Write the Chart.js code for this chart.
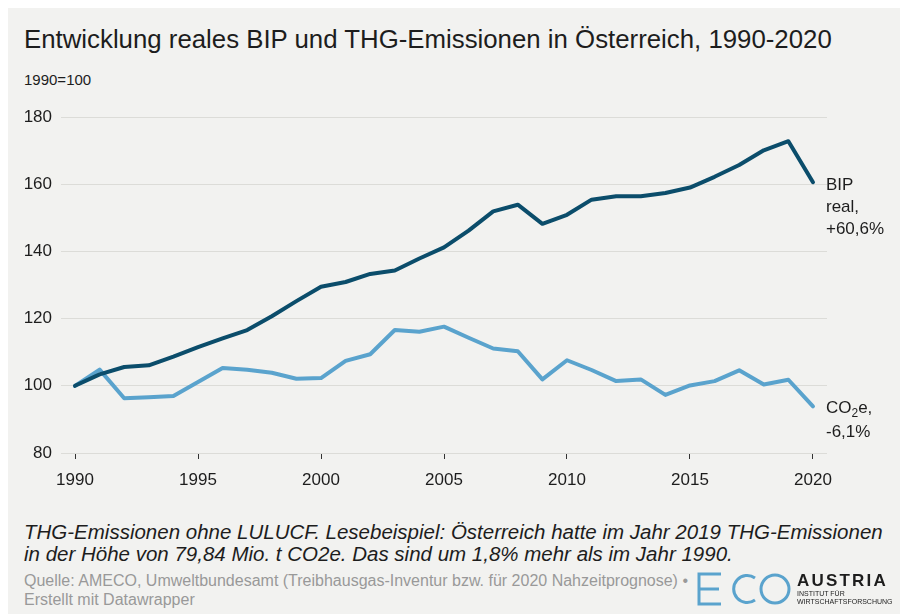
<!DOCTYPE html>
<html>
<head>
<meta charset="utf-8">
<script src="https://cdn.jsdelivr.net/npm/chart.js@4"></script>
<style>
  html, body { margin: 0; padding: 0; background: #fff; }
  body { width: 900px; height: 614px; position: relative; overflow: hidden; font-family: "Liberation Sans", Arial, sans-serif; }
  .panel { position: absolute; left: 8px; top: 8px; right: 0; bottom: 0; background: #f2f2f0; }
  .txt { position: absolute; white-space: nowrap; color: #1d1d1d; }
  #title { left: 24px; top: 24px; font-size: 25.8px; line-height: 30px; }
  #unit { left: 24px; top: 72px; font-size: 15px; line-height: 16px; }
  #note { left: 24px; top: 521px; font-size: 20.5px; line-height: 22px; font-style: italic; }
  #source { left: 24px; top: 571px; font-size: 16px; line-height: 19px; color: #999; }
  #chart { position: absolute; left: 0; top: 0; }
  #logo { position: absolute; left: 694px; top: 566px; }
</style>
</head>
<body>
<div class="panel"></div>
<div class="txt" id="title">Entwicklung reales BIP und THG-Emissionen in Österreich, 1990-2020</div>
<div class="txt" id="unit">1990=100</div>
<div class="txt" id="note">THG-Emissionen ohne LULUCF. Lesebeispiel: Österreich hatte im Jahr 2019 THG-Emissionen<br>in der Höhe von 79,84 Mio. t CO2e. Das sind um 1,8% mehr als im Jahr 1990.</div>
<div class="txt" id="source">Quelle: AMECO, Umweltbundesamt (Treibhausgas-Inventur bzw. für 2020 Nahzeitprognose) •<br>Erstellt mit Datawrapper</div>
<canvas id="chart" width="900" height="614"></canvas>
<svg id="logo" width="206" height="44" viewBox="0 0 206 44">
  <g fill="none" stroke="#5aa3cd" stroke-width="3">
    <path d="M27 8 H5 V38 H27 M5 23 H25"/>
    <path d="M61 12 A13.5 13.5 0 1 0 61 34"/>
    <circle cx="81" cy="23" r="14"/>
  </g>
  <text x="103" y="20" font-family="Liberation Sans, Arial" font-weight="bold" font-size="17" letter-spacing="2.2" fill="#1d1d1d">AUSTRIA</text>
  <text x="103" y="30" font-family="Liberation Sans, Arial" font-size="7" fill="#1d1d1d">INSTITUT FÜR</text>
  <text x="103" y="38" font-family="Liberation Sans, Arial" font-size="7" fill="#1d1d1d">WIRTSCHAFTSFORSCHUNG</text>
</svg>
<script>
const years = [1990, 1991, 1992, 1993, 1994, 1995, 1996, 1997, 1998, 1999,
  2000, 2001, 2002, 2003, 2004, 2005, 2006, 2007, 2008, 2009,
  2010, 2011, 2012, 2013, 2014, 2015, 2016, 2017, 2018, 2019, 2020];
const bipReal = [100, 103.4, 105.6, 106.1, 108.7, 111.5, 114.1, 116.6, 120.7, 125.2,
  129.5, 130.9, 133.3, 134.3, 137.9, 141.2, 146.2, 151.9, 153.9, 148.2,
  150.9, 155.4, 156.4, 156.4, 157.4, 159.0, 162.2, 165.7, 170.1, 172.8, 160.6];
const co2e = [100, 104.8, 96.3, 96.6, 97.0, 101.1, 105.3, 104.8, 103.9, 102.1,
  102.3, 107.4, 109.4, 116.6, 116.1, 117.6, 114.3, 111.1, 110.3, 101.9,
  107.6, 104.7, 101.4, 101.9, 97.3, 100.1, 101.4, 104.6, 100.4, 101.8, 93.9];
const xTicks = [1990, 1995, 2000, 2005, 2010, 2015, 2020];
const yTicks = [80, 100, 120, 140, 160, 180];

const darkBlue = '#0b4d6b';
const lightBlue = '#5aa3cd';
const textColor = '#1d1d1d';

// labels at the end of each line
const endLabels = {
  id: 'endLabels',
  afterDatasetsDraw(chart) {
    const ctx = chart.ctx;
    ctx.save();
    ctx.fillStyle = textColor;
    ctx.textAlign = 'left';
    ctx.textBaseline = 'middle';
    ctx.font = '17px "Liberation Sans", Arial, sans-serif';

    const p0 = chart.getDatasetMeta(0).data[years.length - 1];
    const x0 = p0.x + 13;
    ['BIP', 'real,', '+60,6%'].forEach((s, i) => ctx.fillText(s, x0, p0.y + 3 + i * 22));

    const p1 = chart.getDatasetMeta(1).data[years.length - 1];
    const x1 = p1.x + 13;
    const y1 = p1.y + 2;
    ctx.fillText('CO', x1, y1);
    let w = ctx.measureText('CO').width;
    ctx.font = '12px "Liberation Sans", Arial, sans-serif';
    ctx.fillText('2', x1 + w, y1 + 5);
    w += ctx.measureText('2').width;
    ctx.font = '17px "Liberation Sans", Arial, sans-serif';
    ctx.fillText('e,', x1 + w, y1);
    ctx.fillText('-6,1%', x1, y1 + 24);
    ctx.restore();
  }
};

new Chart(document.getElementById('chart'), {
  type: 'line',
  data: {
    datasets: [
      {
        label: 'BIP real',
        data: years.map((y, i) => ({ x: y, y: bipReal[i] })),
        borderColor: darkBlue,
        borderWidth: 4,
        pointRadius: 0,
        tension: 0,
        borderCapStyle: 'round',
        borderJoinStyle: 'round'
      },
      {
        label: 'CO2e',
        data: years.map((y, i) => ({ x: y, y: co2e[i] })),
        borderColor: lightBlue,
        borderWidth: 4,
        pointRadius: 0,
        tension: 0,
        borderCapStyle: 'round',
        borderJoinStyle: 'round'
      }
    ]
  },
  options: {
    responsive: false,
    animation: false,
    layout: { padding: { top: 117, left: 0, right: 73, bottom: 121 } },
    plugins: {
      legend: { display: false },
      tooltip: { enabled: false }
    },
    scales: {
      x: {
        type: 'linear',
        min: 1989.43,
        max: 2020.57,
        afterBuildTicks: scale => { scale.ticks = xTicks.map(v => ({ value: v })); },
        afterFit: scale => { scale.height = 40; },
        border: { display: false },
        grid: { drawOnChartArea: false, drawTicks: true, tickLength: 6, tickColor: '#333', lineWidth: 1 },
        ticks: {
          padding: 11,
          color: textColor,
          font: { family: '"Liberation Sans", Arial, sans-serif', size: 17 },
          maxRotation: 0,
          callback: v => String(v)
        }
      },
      y: {
        min: 80,
        max: 180,
        afterBuildTicks: scale => { scale.ticks = yTicks.map(v => ({ value: v })); },
        afterFit: scale => { scale.width = 61; },
        border: { display: false },
        grid: { color: '#dcdcd8', lineWidth: 1, drawTicks: false },
        ticks: {
          padding: 9,
          color: textColor,
          font: { family: '"Liberation Sans", Arial, sans-serif', size: 17 }
        }
      }
    }
  },
  plugins: [endLabels]
});
</script>
</body>
</html>
